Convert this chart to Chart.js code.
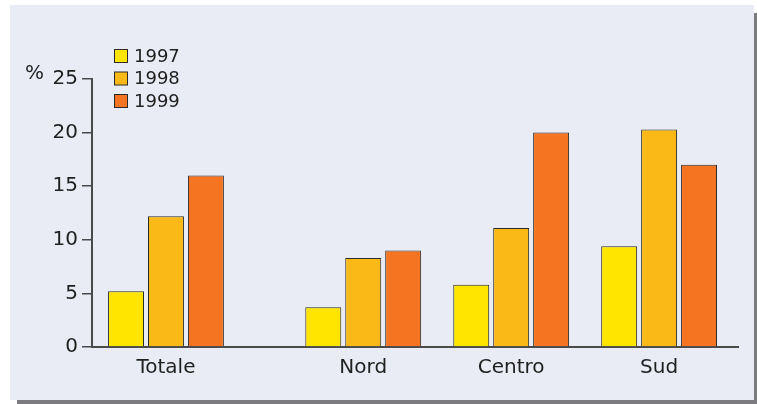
<!DOCTYPE html>
<html>
<head>
<meta charset="utf-8">
<script src="https://cdn.jsdelivr.net/npm/chart.js@4"></script>
<style>
  html, body { margin: 0; padding: 0; background: #ffffff; }
  #wrap { position: relative; width: 757px; height: 404px; overflow: hidden; }
  #panel {
    position: absolute; left: 10px; top: 5px; width: 744px; height: 395px;
    background: #e9ecf4;
    box-shadow: 5px 6px 0 -2px #7b7b80;
  }
  #c { position: absolute; left: 0; top: 0; }
</style>
</head>
<body>
<div id="wrap">
  <div id="panel"></div>
  <canvas id="c" width="757" height="404"></canvas>
</div>
<script>
// Share of families (%) by area and year
const categories = ['Totale', 'Nord', 'Centro', 'Sud'];
const years = ['1997', '1998', '1999'];
const v1997 = [5.2, 3.7, 5.8, 9.4];
const v1998 = [12.2, 8.3, 11.1, 20.3];
const v1999 = [16.0, 9.0, 20.0, 17.0];
const yTicks = [0, 5, 10, 15, 20, 25];
const yUnit = '%';

const colors = ['#ffe500', '#fbb918', '#f47421'];
const FONT = '"DejaVu Sans", Verdana, sans-serif';
const TEXT = '#1f1f1f';
const AXIS = '#4a4a4a';
const EDGE = '#2a2a2a';

// Group centres on a numeric axis: 3 units per area, with an extra unit of
// space separating the national total from the regional areas.
function slot(i) { return 1.5 + 3 * i + (i > 0 ? 1 : 0); }
const slots = categories.map((_, i) => slot(i));
const xEnd = 13.1;

const series = [v1997, v1998, v1999];
const datasets = years.map((y, k) => ({
  label: y,
  data: series[k].map((v, i) => ({ x: slots[i], y: v })),
  backgroundColor: colors[k],
  borderColor: EDGE,
  borderWidth: 1,
  borderSkipped: 'bottom',
  categoryPercentage: 0.81,
  barPercentage: 0.9
}));

// Vertical legend in the upper-left corner and the unit label beside the y axis
const decorations = {
  id: 'decorations',
  afterDraw(chart) {
    const ctx = chart.ctx;
    ctx.save();
    ctx.font = '18px ' + FONT;
    ctx.textBaseline = 'middle';
    ctx.textAlign = 'left';
    chart.data.datasets.forEach((ds, i) => {
      const top = 49 + i * 22.5;
      ctx.fillStyle = ds.backgroundColor;
      ctx.fillRect(114.5, top + 0.5, 13, 13);
      ctx.strokeStyle = EDGE;
      ctx.lineWidth = 1;
      ctx.strokeRect(114.5, top + 0.5, 13, 13);
      ctx.fillStyle = TEXT;
      ctx.fillText(ds.label, 134, top + 8);
    });
    ctx.font = '20px ' + FONT;
    ctx.textBaseline = 'alphabetic';
    ctx.fillStyle = TEXT;
    ctx.fillText(yUnit, 25, 79);
    ctx.restore();
  }
};

new Chart(document.getElementById('c'), {
  type: 'bar',
  data: { datasets },
  plugins: [decorations],
  options: {
    responsive: false,
    animation: false,
    devicePixelRatio: 1,
    layout: { padding: { left: 0, top: 79, right: 19, bottom: 0 } },
    plugins: {
      legend: { display: false },
      tooltip: { enabled: false }
    },
    scales: {
      x: {
        type: 'linear',
        min: 0,
        max: xEnd,
        offset: false,
        grid: { display: false, drawTicks: false, offset: false },
        border: { display: true, color: AXIS, width: 2 },
        afterBuildTicks(scale) { scale.ticks = slots.map(v => ({ value: v })); },
        afterFit(scale) { scale.height = 57; },
        ticks: {
          autoSkip: false,
          maxRotation: 0,
          padding: 9,
          color: TEXT,
          font: { family: FONT, size: 20 },
          callback(value) {
            const i = slots.indexOf(value);
            return i >= 0 ? categories[i] : '';
          }
        }
      },
      y: {
        min: yTicks[0],
        max: yTicks[yTicks.length - 1],
        afterBuildTicks(scale) { scale.ticks = yTicks.map(v => ({ value: v })); },
        afterFit(scale) { scale.width = 92; },
        grid: {
          drawOnChartArea: false,
          drawTicks: true,
          tickLength: 10,
          color: AXIS,
          lineWidth: 1.5
        },
        border: { display: true, color: AXIS, width: 2 },
        ticks: {
          padding: 4,
          color: TEXT,
          font: { family: FONT, size: 20 }
        }
      }
    }
  }
});
</script>
</body>
</html>
